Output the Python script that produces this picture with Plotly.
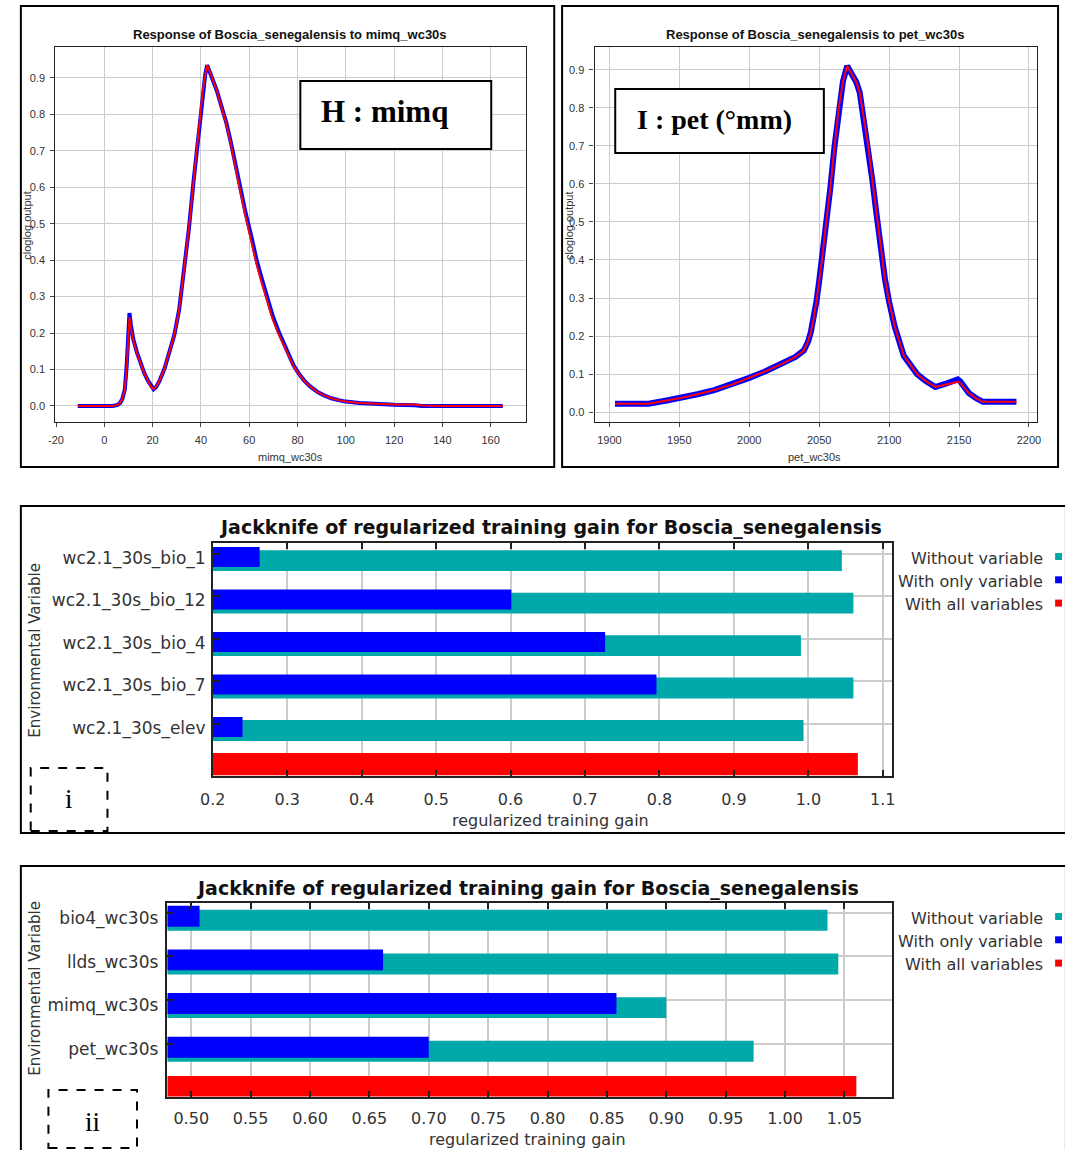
import plotly.graph_objects as go

W, H = 1065, 1150

# ---------------- data ----------------
mimq_x = [-11, -5, 0, 3.5, 5.5, 6.5, 7.5, 8.5, 9.3, 10.0, 10.4, 11.0, 12.0, 13.5, 15.0, 16.5, 18.0,
          19.5, 20.4, 21.5, 23.0, 25.0, 27.0, 29.0, 31.0, 33.0, 35.0, 37.0, 39.0, 40.6, 41.8, 42.6,
          43.5, 45.0, 46.6, 48.5, 50.5, 52.5, 54.5, 56.5, 58.5, 61.0, 63.0, 65.3, 67.5, 69.6, 72.0,
          74.0, 76.0, 78.3, 80.5, 82.6, 85.0, 88.3, 91.0, 94.0, 97.0, 100.0, 105.6, 112.8, 120.0,
          128.6, 131.5, 140.0, 150.0, 165.0]
mimq_mean = [0.0, 0.0, 0.0, 0.0, 0.003, 0.008, 0.02, 0.045, 0.11, 0.2, 0.243, 0.215, 0.18, 0.145,
             0.115, 0.09, 0.07, 0.052, 0.047, 0.053, 0.072, 0.105, 0.15, 0.195, 0.265, 0.37, 0.485,
             0.62, 0.75, 0.855, 0.91, 0.935, 0.92, 0.893, 0.865, 0.82, 0.775, 0.715, 0.645, 0.583,
             0.52, 0.45, 0.39, 0.335, 0.285, 0.24, 0.2, 0.17, 0.14, 0.11, 0.088, 0.07, 0.055, 0.038,
             0.029, 0.021, 0.016, 0.012, 0.008, 0.005, 0.004, 0.004, 0.001, 0.0, 0.0, 0.0]
mimq_sd = [0.0, 0.0, 0.0, 0.0, 0.003, 0.008, 0.02, 0.046, 0.115, 0.21, 0.255, 0.222, 0.183, 0.147,
           0.116, 0.091, 0.07, 0.052, 0.046, 0.052, 0.071, 0.104, 0.15, 0.195, 0.265, 0.37, 0.485,
           0.62, 0.75, 0.855, 0.91, 0.935, 0.92, 0.893, 0.865, 0.822, 0.778, 0.72, 0.652, 0.592,
           0.53, 0.462, 0.402, 0.347, 0.296, 0.25, 0.207, 0.175, 0.143, 0.112, 0.089, 0.071, 0.055,
           0.038, 0.029, 0.021, 0.016, 0.012, 0.008, 0.005, 0.003, 0.002, 0.0, 0.0, 0.0, 0.0]

pet_x = [1904, 1915, 1928, 1940, 1951, 1963, 1975, 1988, 2000, 2012, 2024, 2033, 2039, 2042, 2044,
         2046, 2048, 2050, 2052, 2055, 2058, 2061, 2064, 2067, 2070, 2073, 2076.5, 2079, 2082, 2085,
         2088, 2091, 2094, 2097, 2100, 2104, 2110.5, 2115, 2120, 2126, 2133, 2140, 2149, 2151, 2157,
         2162, 2167, 2175, 2191]
pet_mean = [0.022, 0.022, 0.022, 0.03, 0.037, 0.047, 0.058, 0.073, 0.09, 0.108, 0.128, 0.145, 0.162,
            0.185, 0.21, 0.245, 0.29, 0.345, 0.4, 0.5, 0.59, 0.7, 0.8, 0.87, 0.91, 0.89, 0.868, 0.84,
            0.77, 0.7, 0.61, 0.52, 0.43, 0.35, 0.29, 0.225, 0.148, 0.125, 0.1, 0.082, 0.066, 0.072,
            0.08, 0.076, 0.05, 0.037, 0.027, 0.027, 0.027]
pet_sd = [0.022, 0.022, 0.022, 0.03, 0.037, 0.047, 0.058, 0.073, 0.09, 0.108, 0.128, 0.145, 0.162,
          0.185, 0.21, 0.245, 0.29, 0.345, 0.4, 0.5, 0.59, 0.7, 0.8, 0.87, 0.91, 0.89, 0.868, 0.84,
          0.77, 0.7, 0.61, 0.52, 0.43, 0.35, 0.29, 0.225, 0.148, 0.125, 0.1, 0.082, 0.066, 0.074,
          0.086, 0.08, 0.05, 0.037, 0.027, 0.027, 0.027]

mimq_ticks = [-20, 0, 20, 40, 60, 80, 100, 120, 140, 160]
pet_ticks = [1900, 1950, 2000, 2050, 2100, 2150, 2200]
resp_yticks = [0.0, 0.1, 0.2, 0.3, 0.4, 0.5, 0.6, 0.7, 0.8, 0.9]

jk1_vars = ["wc2.1_30s_bio_1", "wc2.1_30s_bio_12", "wc2.1_30s_bio_4", "wc2.1_30s_bio_7", "wc2.1_30s_elev"]
jk1_without = [1.045, 1.0605, 0.990, 1.0605, 0.9935]
jk1_only = [0.263, 0.601, 0.727, 0.796, 0.240]
jk1_all = 1.0665
jk1_ticks = [0.2, 0.3, 0.4, 0.5, 0.6, 0.7, 0.8, 0.9, 1.0, 1.1]

jk2_vars = ["bio4_wc30s", "llds_wc30s", "mimq_wc30s", "pet_wc30s"]
jk2_without = [1.0357, 1.0448, 0.900, 0.9735]
jk2_only = [0.507, 0.6615, 0.858, 0.700]
jk2_all = 1.060
jk2_ticks = [0.50, 0.55, 0.60, 0.65, 0.70, 0.75, 0.80, 0.85, 0.90, 0.95, 1.00, 1.05]

TEAL, BLUE, RED = "#00a9a9", "#0000ff", "#ff0000"


def px(x):
    return x / W


def py(y):
    return 1 - y / H


fig = go.Figure()

# response curves
fig.add_trace(go.Scatter(x=mimq_x, y=mimq_sd, mode="lines", line=dict(color=BLUE, width=4),
                         xaxis="x", yaxis="y", showlegend=False))
fig.add_trace(go.Scatter(x=mimq_x, y=mimq_mean, mode="lines", line=dict(color=RED, width=2),
                         xaxis="x", yaxis="y", showlegend=False))
fig.add_trace(go.Scatter(x=pet_x, y=pet_sd, mode="lines", line=dict(color=BLUE, width=6),
                         xaxis="x2", yaxis="y2", showlegend=False))
fig.add_trace(go.Scatter(x=pet_x, y=pet_mean, mode="lines", line=dict(color=RED, width=2),
                         xaxis="x2", yaxis="y2", showlegend=False))

# jackknife i
n1 = len(jk1_vars)
fig.add_trace(go.Bar(x=jk1_without, y=[i + 0.06 for i in range(n1)], orientation="h", width=0.49,
                     marker=dict(color=TEAL, line=dict(width=0)), xaxis="x3", yaxis="y3", showlegend=False))
fig.add_trace(go.Bar(x=jk1_only, y=[i - 0.025 for i in range(n1)], orientation="h", width=0.47,
                     marker=dict(color=BLUE, line=dict(width=0)), xaxis="x3", yaxis="y3", showlegend=False))
fig.add_trace(go.Bar(x=[jk1_all], y=[n1 - 0.15], orientation="h", width=0.52,
                     marker=dict(color=RED, line=dict(width=0)), xaxis="x3", yaxis="y3", showlegend=False))

# jackknife ii
n2 = len(jk2_vars)
fig.add_trace(go.Bar(x=jk2_without, y=[i + 0.053 for i in range(n2)], orientation="h", width=0.48,
                     marker=dict(color=TEAL, line=dict(width=0)), xaxis="x4", yaxis="y4", showlegend=False))
fig.add_trace(go.Bar(x=jk2_only, y=[i - 0.04 for i in range(n2)], orientation="h", width=0.48,
                     marker=dict(color=BLUE, line=dict(width=0)), xaxis="x4", yaxis="y4", showlegend=False))
fig.add_trace(go.Bar(x=[jk2_all], y=[n2 - 0.145], orientation="h", width=0.47,
                     marker=dict(color=RED, line=dict(width=0)), xaxis="x4", yaxis="y4", showlegend=False))

small = dict(family="Liberation Sans, Arial, sans-serif", size=11, color="#333333")
big = dict(family="DejaVu Sans, sans-serif", size=16, color="#333333")
GRID = "#cccccc"

resp_x = dict(showgrid=True, gridcolor=GRID, gridwidth=1, zeroline=False, showline=True,
              linecolor="#222222", linewidth=1.2, mirror=True, ticks="outside", ticklen=4,
              tickcolor="#444444", tickfont=small, ticklabelstandoff=4)
resp_y = dict(resp_x, ticklabelstandoff=3)

fig.update_layout(
    width=W, height=H, margin=dict(l=0, r=0, t=0, b=0),
    paper_bgcolor="white", plot_bgcolor="white", barmode="overlay",
    xaxis=dict(domain=[px(43), px(521)], range=[-20.3, 174.5], anchor="y",
               tickvals=mimq_ticks, ticktext=[str(v) for v in mimq_ticks], **resp_x),
    yaxis=dict(domain=[py(422), py(47)], range=[-0.044, 0.985], anchor="x",
               tickvals=resp_yticks, ticktext=["%.1f" % v for v in resp_yticks], **resp_y),
    xaxis2=dict(domain=[px(591), px(1041)], range=[1889.4, 2206], anchor="y2",
                tickvals=pet_ticks, ticktext=[str(v) for v in pet_ticks], **resp_x),
    yaxis2=dict(domain=[py(422), py(47)], range=[-0.026, 0.96], anchor="x2",
                tickvals=resp_yticks, ticktext=["%.1f" % v for v in resp_yticks], **resp_y),
    xaxis3=dict(domain=[px(203), px(893)], range=[0.2, 1.112], anchor="y3",
                tickvals=jk1_ticks, ticktext=["%.1f" % v for v in jk1_ticks],
                showgrid=True, gridcolor=GRID, gridwidth=1.5, zeroline=False, showline=True,
                linecolor="#222222", linewidth=1.5, mirror="ticks", ticks="inside", ticklen=6,
                tickcolor="#222222", tickwidth=1.5, tickfont=big, ticklabelstandoff=8),
    yaxis3=dict(domain=[py(776), py(543)], range=[5.13, -0.353], anchor="x3",
                tickvals=list(range(n1)), ticktext=jk1_vars, ticks="", showgrid=False,
                zeroline=False, showline=True, linecolor="#222222", linewidth=1.5, mirror=True,
                tickfont=dict(family="DejaVu Sans, sans-serif", size=17, color="#333333"),
                ticklabelstandoff=2,
                minor=dict(tickmode="array", tickvals=[i - 0.1 for i in range(n1)], showgrid=True,
                           gridcolor=GRID, gridwidth=1.5, ticks="inside", ticklen=6,
                           tickcolor="#222222", tickwidth=1.5)),
    xaxis4=dict(domain=[px(157), px(893)], range=[0.48, 1.0898], anchor="y4",
                tickvals=jk2_ticks, ticktext=["%.2f" % v for v in jk2_ticks],
                showgrid=True, gridcolor=GRID, gridwidth=1.5, zeroline=False, showline=True,
                linecolor="#222222", linewidth=1.5, mirror="ticks", ticks="inside", ticklen=6,
                tickcolor="#222222", tickwidth=1.5, tickfont=big, ticklabelstandoff=6),
    yaxis4=dict(domain=[py(1097), py(903)], range=[4.1, -0.343], anchor="x4",
                tickvals=list(range(n2)), ticktext=jk2_vars, ticks="", showgrid=False,
                zeroline=False, showline=True, linecolor="#222222", linewidth=1.5, mirror=True,
                tickfont=dict(family="DejaVu Sans, sans-serif", size=17, color="#333333"),
                ticklabelstandoff=4,
                minor=dict(tickmode="array", tickvals=[i - 0.12 for i in range(n2)], showgrid=True,
                           gridcolor=GRID, gridwidth=1.5, ticks="inside", ticklen=6,
                           tickcolor="#222222", tickwidth=1.5)),
)

ann = []


def text(x, y, s, font, xanchor="center", angle=0):
    ann.append(dict(x=px(x), y=py(y), xref="paper", yref="paper", text=s, showarrow=False,
                    xanchor=xanchor, yanchor="middle", textangle=angle, font=font))


tfont = dict(family="Liberation Sans, Arial, sans-serif", size=13, color="#111111", weight="bold")
text(282, 34, "Response of Boscia_senegalensis to mimq_wc30s", tfont)
text(815, 34, "Response of Boscia_senegalensis to pet_wc30s", tfont)
text(282, 457, "mimq_wc30s", small)
text(815, 457, "pet_wc30s", small)
text(14, 225, "cloglog output", small, angle=-90)
text(565, 225, "cloglog output", small, angle=-90)

serif_b = dict(family="Liberation Serif, Times New Roman, serif", size=31, color="black", weight="bold")
text(378, 112, "H : mimq", serif_b)
text(713, 119, "I : pet (°mm)", dict(serif_b, size=28))

jtitle = dict(family="DejaVu Sans, sans-serif", size=19, color="#111111", weight="bold")
text(546, 528, "Jackknife of regularized training gain for Boscia_senegalensis", jtitle)
text(523, 888, "Jackknife of regularized training gain for Boscia_senegalensis", jtitle)
axf = dict(family="DejaVu Sans, sans-serif", size=16, color="#333333")
text(546, 820, "regularized training gain", axf)
text(523, 1139, "regularized training gain", axf)
vf = dict(family="DejaVu Sans, sans-serif", size=15, color="#333333")
text(22, 650, "Environmental Variable", vf, angle=-90)
text(22, 988, "Environmental Variable", vf, angle=-90)

legend_labels = ["Without variable", "With only variable", "With all variables"]
legend_colors = [TEAL, BLUE, RED]
lf = dict(family="DejaVu Sans, sans-serif", size=16, color="#333333")
shapes = []
for y0 in (558, 918):
    for k, (lab, col) in enumerate(zip(legend_labels, legend_colors)):
        yy = y0 + k * 23.3
        text(1049, yy, lab, lf, xanchor="right")
        shapes.append(dict(type="rect", xref="paper", yref="paper", x0=px(1059), x1=px(1066),
                           y0=py(yy + 2), y1=py(yy - 5), fillcolor=col, line=dict(width=0)))

rf = dict(family="Liberation Serif, Times New Roman, serif", size=27, color="black")
text(57, 799, "i", rf)
text(81, 1122, "ii", rf)

# panel frames
for (x0, y0, x1, y1) in [(8, 6, 550, 467), (558, 6, 1062, 467), (8, 506, 1070, 833), (8, 866, 1070, 1160)]:
    shapes.append(dict(type="rect", xref="paper", yref="paper", x0=px(x0), x1=px(x1), y0=py(y1), y1=py(y0),
                       line=dict(color="black", width=2), fillcolor="rgba(0,0,0,0)", layer="above"))
# label boxes
for (x0, y0, x1, y1) in [(292, 81, 486, 149), (612, 89, 824, 153)]:
    shapes.append(dict(type="rect", xref="paper", yref="paper", x0=px(x0), x1=px(x1), y0=py(y1), y1=py(y0),
                       line=dict(color="black", width=2), fillcolor="white", layer="above"))
# dashed boxes
for (x0, y0, x1, y1) in [(18, 768, 96, 831), (36, 1090, 126, 1148)]:
    shapes.append(dict(type="rect", xref="paper", yref="paper", x0=px(x0), x1=px(x1), y0=py(y1), y1=py(y0),
                       line=dict(color="black", width=2, dash="dash"), fillcolor="rgba(0,0,0,0)"))

fig.update_layout(annotations=ann, shapes=shapes)
fig.write_html("out.html", config={"displayModeBar": False},
               post_script="document.body.style.margin='0';document.body.style.overflow='hidden';")
